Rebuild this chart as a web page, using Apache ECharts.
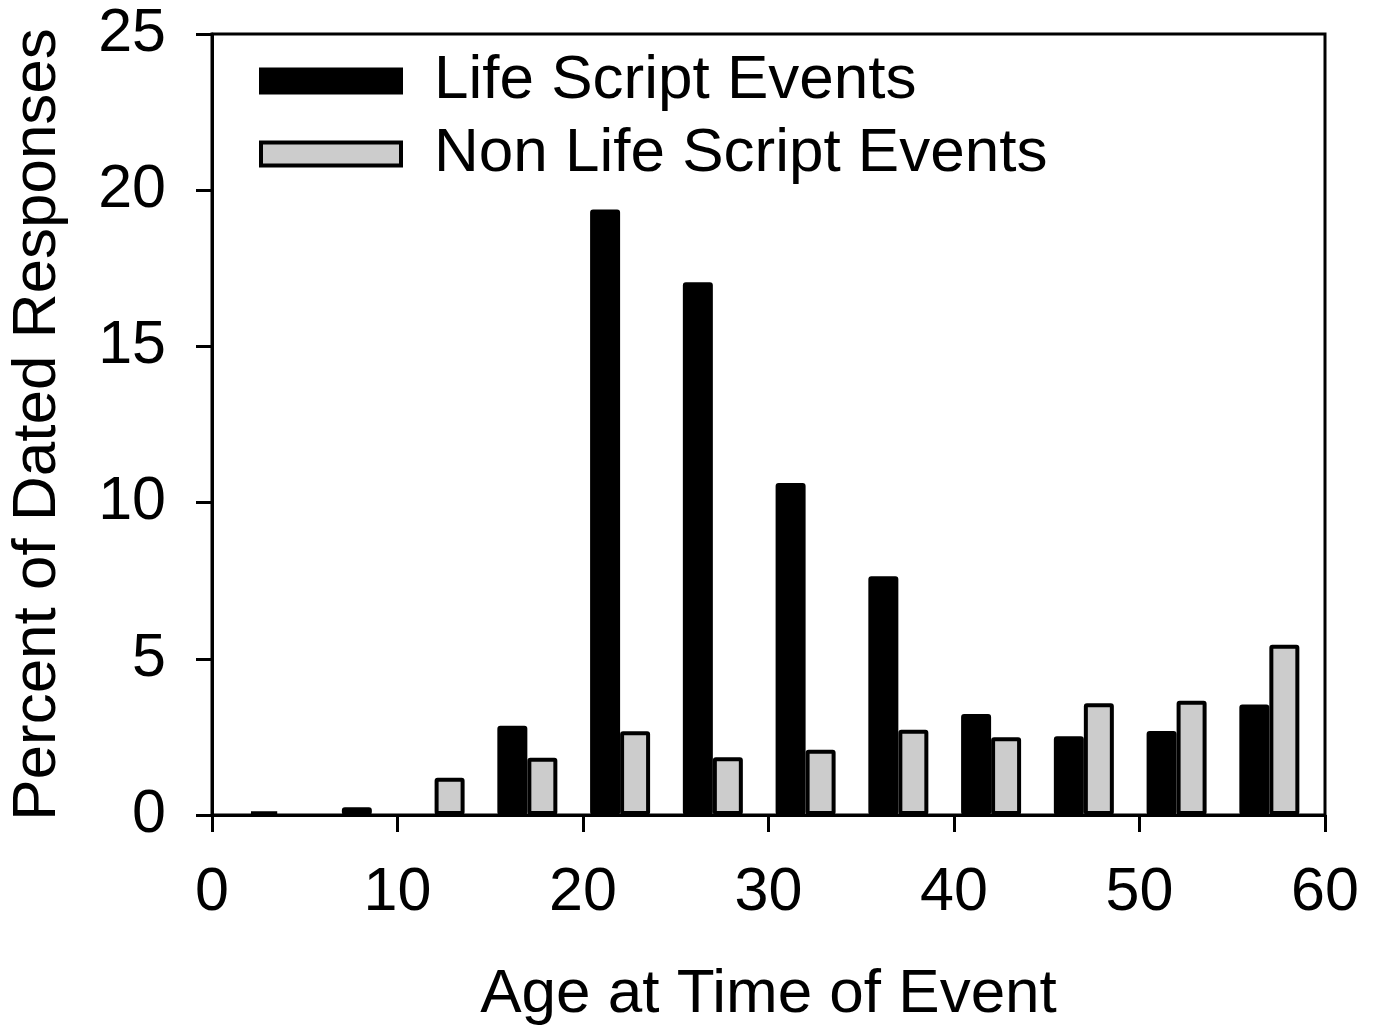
<!DOCTYPE html>
<html>
<head>
<meta charset="utf-8">
<script src="https://cdn.jsdelivr.net/npm/echarts@6/dist/echarts.min.js"></script>
<style>
  html, body { margin: 0; padding: 0; background: #fff; }
  #chart { width: 1376px; height: 1032px; }
</style>
</head>
<body>
<div id="chart"></div>
<script>
// Age bins (position of each pair of bars on the age axis)
const ageBins = [2, 7, 12, 17, 22, 27, 32, 37, 42, 47, 52, 57];
// Percent of dated responses
const lifeScript    = [0, 0, 0, 2.86, 19.38, 17.05, 10.63, 7.64, 3.23, 2.52, 2.69, 3.54];
const nonLifeScript = [0.12, 0.25, 1.19, 1.83, 2.68, 1.85, 2.09, 2.73, 2.49, 3.58, 3.66, 5.45];
const xTicks = [0, 10, 20, 30, 40, 50, 60];
const yTicks = [0, 5, 10, 15, 20, 25];
const seriesNames = ['Life Script Events', 'Non Life Script Events'];

const FONT = 'Liberation Sans, Arial, sans-serif';
const chart = echarts.init(document.getElementById('chart'), null, { renderer: 'canvas' });

// zero-valued bars are not drawn in the reference
const pairs = (vals) => ageBins.map((a, i) => [a, vals[i] === 0 ? null : vals[i]]);

chart.setOption({
  animation: false,
  backgroundColor: '#ffffff',
  textStyle: { fontFamily: FONT, color: '#000' },
  grid: {
    left: 212, right: 51, top: 34, bottom: 217,
    outerBoundsMode: 'none', containLabel: false,
    show: true, borderColor: '#000', borderWidth: 3, backgroundColor: 'transparent'
  },
  legend: {
    left: 254, top: 45, orient: 'vertical',
    itemWidth: 140, itemHeight: 23, itemGap: 11,
    icon: 'rect',
    selectedMode: false,
    textStyle: { fontFamily: FONT, fontSize: 62, color: '#000', padding: [0, 0, 0, 28] },
    data: [
      { name: seriesNames[0], itemStyle: { color: '#000', borderColor: '#000', borderWidth: 4 } },
      { name: seriesNames[1], itemStyle: { color: '#cccccc', borderColor: '#000', borderWidth: 4 } }
    ]
  },
  xAxis: {
    type: 'value', min: xTicks[0], max: xTicks[xTicks.length - 1], interval: 10,
    name: 'Age at Time of Event', nameLocation: 'middle', nameGap: 149,
    nameTextStyle: { fontFamily: FONT, fontSize: 62, color: '#000' },
    axisLine: { show: true, lineStyle: { color: '#000', width: 3 } },
    axisTick: { show: true, length: 17, lineStyle: { color: '#000', width: 3 } },
    axisLabel: { fontFamily: FONT, fontSize: 61, color: '#000', margin: 48 },
    splitLine: { show: false }
  },
  yAxis: {
    type: 'value', min: yTicks[0], max: yTicks[yTicks.length - 1], interval: 5,
    name: 'Percent of Dated Responses', nameLocation: 'middle', nameGap: 143,
    nameTextStyle: { fontFamily: FONT, fontSize: 62, color: '#000' },
    axisLine: { show: true, lineStyle: { color: '#000', width: 3 } },
    axisTick: { show: true, length: 16, lineStyle: { color: '#000', width: 3 } },
    axisLabel: { fontFamily: FONT, fontSize: 61, color: '#000', margin: 46 },
    splitLine: { show: false }
  },
  series: [
    {
      name: seriesNames[0], type: 'bar', data: pairs(lifeScript),
      barWidth: 30, barGap: '0%',
      itemStyle: { color: '#000', borderColor: '#000', borderWidth: 4, borderRadius: 1 }
    },
    {
      name: seriesNames[1], type: 'bar', data: pairs(nonLifeScript),
      barWidth: 30, barGap: '0%',
      itemStyle: { color: '#cccccc', borderColor: '#000', borderWidth: 4, borderRadius: 1 }
    }
  ]
});
</script>
</body>
</html>
